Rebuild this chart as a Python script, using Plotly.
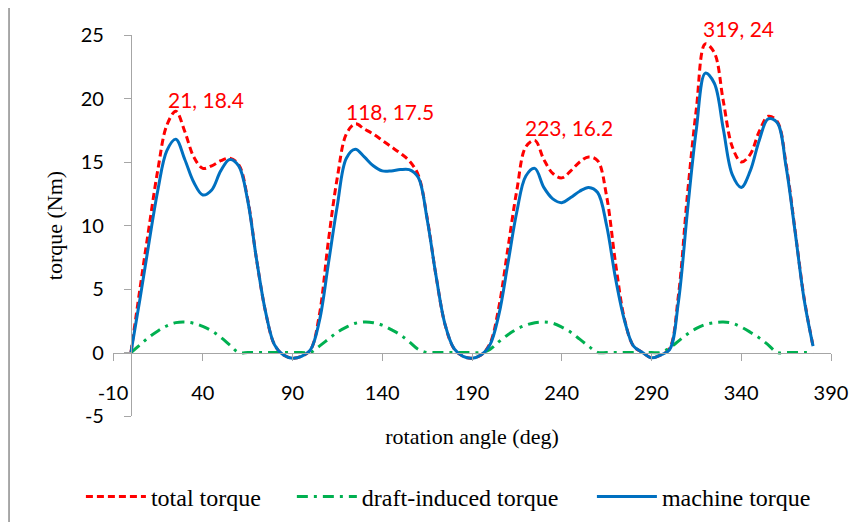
import plotly.graph_objects as go

# ---- data ----
angle = list(range(0, 385, 5))

total_torque = [
    0, 5.0, 9.8, 14.4, 17.9, 19.0, 17.4, 15.4, 14.5, 14.7,
    15.1, 15.3, 14.8, 12.1, 7.3, 3.2, 0.6, -0.2, -0.45, -0.3,
    0.2, 3.0, 8.8, 13.8, 17.2, 18.0, 17.6, 17.2, 16.7, 16.2,
    15.7, 15.1, 14.0, 10.6, 6.0, 2.2, 0.3, -0.3, -0.45, -0.2,
    0.7, 3.6, 8.2, 12.8, 16.2, 16.7, 15.2, 14.1, 13.75, 14.3,
    15.0, 15.4, 15.1, 12.3, 7.0, 2.6, 0.5, 0.0, -0.42, -0.2,
    0.3, 4.5, 12.4, 19.2, 24.3, 23.6, 19.8, 16.2, 15.0, 15.6,
    17.4, 18.6, 18.2, 14.8, 9.6, 4.3, 0.5,
]

draft_torque = [
    0, 0.6, 1.2, 1.7, 2.1, 2.35, 2.4, 2.3, 2.05, 1.7,
    1.2, 0.6, 0, 0, 0, 0, 0, 0, 0, 0,
    0, 0.5, 1.05, 1.6, 2.0, 2.3, 2.4, 2.35, 2.15, 1.8,
    1.4, 0.85, 0.25, 0, 0, 0, 0, 0, 0, 0,
    0.25, 0.85, 1.4, 1.85, 2.15, 2.35, 2.4, 2.3, 2.0, 1.6,
    1.05, 0.5, 0, 0, 0, 0, 0, 0, 0, 0,
    0.35, 0.9, 1.45, 1.9, 2.2, 2.35, 2.4, 2.3, 2.0, 1.6,
    1.15, 0.6, 0, 0, 0, 0, 0,
]

machine_torque = [
    0, 4.2, 8.6, 12.8, 15.9, 16.8, 15.2, 13.4, 12.4, 12.8,
    14.3, 15.2, 14.7, 12.0, 7.3, 3.2, 0.6, -0.2, -0.45, -0.3,
    0.2, 2.5, 7.0, 11.6, 15.3, 16.0, 15.4, 14.7, 14.3, 14.3,
    14.4, 14.4, 13.8, 10.5, 6.0, 2.2, 0.3, -0.3, -0.45, -0.2,
    0.6, 3.0, 7.0, 11.1, 13.9, 14.5, 13.0, 12.1, 11.8, 12.2,
    12.7, 13.0, 12.6, 10.0, 5.8, 2.5, 0.5, 0.0, -0.42, -0.2,
    0.2, 4.0, 11.1, 17.6, 22.0, 21.2, 17.6, 14.0, 13.0, 14.3,
    16.7, 18.4, 18.1, 14.6, 9.5, 4.2, 0.5,
]

label_angle = [21, 118, 223, 319]
label_torque = [18.4, 17.5, 16.2, 24]
label_text = ["21, 18.4", "118, 17.5", "223, 16.2", "319, 24"]

x_ticks = [-10, 40, 90, 140, 190, 240, 290, 340, 390]
y_ticks = [-5, 0, 5, 10, 15, 20, 25]

series_names = ["total torque", "draft-induced torque", "machine torque"]

# ---- styling ----
RED = "#FF0000"
GREEN = "#00B050"
BLUE = "#0070C0"
AXIS = "#A6A6A6"
TICK_FONT = dict(family="Lato", size=20, color="#000000")
SERIF = "Liberation Serif"
LABEL_XSHIFT = [-3, 1, -8, -3]
LEGEND_X = [-0.0447, 0.2491, 0.6670]
LEGEND_Y = -0.2126

fig = go.Figure()
fig.add_trace(go.Scatter(
    x=angle, y=total_torque, mode="lines", name=series_names[0], legend="legend",
    line=dict(color=RED, width=3, dash="7px,4px", shape="spline", smoothing=1.0),
))
fig.add_trace(go.Scatter(
    x=angle, y=draft_torque, mode="lines", name=series_names[1], legend="legend2",
    line=dict(color=GREEN, width=3, dash="11px,6px,3px,6px", shape="spline", smoothing=1.0),
))
fig.add_trace(go.Scatter(
    x=angle, y=machine_torque, mode="lines", name=series_names[2], legend="legend3",
    line=dict(color=BLUE, width=3, shape="spline", smoothing=1.0),
))

for lx, ly, lt, dx in zip(label_angle, label_torque, label_text, LABEL_XSHIFT):
    fig.add_annotation(
        x=lx, y=ly, text=lt, showarrow=False, xanchor="left", yanchor="middle",
        xshift=dx, yshift=19, font=dict(family="Lato", size=21, color=RED),
    )

# outer chart border (partly cropped in the reference)
fig.add_shape(type="line", xref="paper", yref="paper", x0=-0.1448, x1=-0.1448,
              y0=1.0735, y1=-0.5, line=dict(color="#8C8C8C", width=1.5))
fig.add_shape(type="line", xref="paper", yref="paper", x0=-0.1448, x1=1.2,
              y0=1.0735, y1=1.0735, line=dict(color="#8C8C8C", width=1.5))

x_min, x_max = x_ticks[0], x_ticks[-1]
y_min, y_max = y_ticks[0], y_ticks[-1]

legend_common = dict(orientation="h", xanchor="left", y=LEGEND_Y,
                     yanchor="middle", itemwidth=60,
                     font=dict(family=SERIF, size=24, color="#000000"),
                     bgcolor="rgba(0,0,0,0)")

fig.update_layout(
    width=852, height=514,
    margin=dict(l=105, r=29, t=27, b=106, autoexpand=False),
    paper_bgcolor="white", plot_bgcolor="white",
    showlegend=True,
    legend=dict(x=LEGEND_X[0], **legend_common),
    legend2=dict(x=LEGEND_X[1], **legend_common),
    legend3=dict(x=LEGEND_X[2], **legend_common),
    xaxis=dict(
        range=[x_min, x_max], tickvals=x_ticks, ticktext=[str(v) for v in x_ticks],
        anchor="free", position=(0 - y_min) / (y_max - y_min),
        showline=True, linecolor=AXIS, linewidth=1,
        ticks="outside", ticklen=7, tickcolor=AXIS, tickwidth=1,
        ticklabelstandoff=15,
        showgrid=False, zeroline=False, tickfont=TICK_FONT,
        title=dict(text="rotation angle (deg)", font=dict(family=SERIF, size=22, color="#000000"),
                   standoff=26),
    ),
    yaxis=dict(
        range=[y_min, y_max], tickvals=y_ticks, ticktext=[str(v) for v in y_ticks],
        anchor="free", position=(0 - x_min) / (x_max - x_min),
        showline=True, linecolor=AXIS, linewidth=1,
        ticks="outside", ticklen=7, tickcolor=AXIS, tickwidth=1,
        ticklabelstandoff=16,
        showgrid=False, zeroline=False, tickfont=TICK_FONT,
        title=dict(text="torque (Nm)", font=dict(family=SERIF, size=22, color="#000000"),
                   standoff=11),
    ),
)

fig.write_html("out.html")
